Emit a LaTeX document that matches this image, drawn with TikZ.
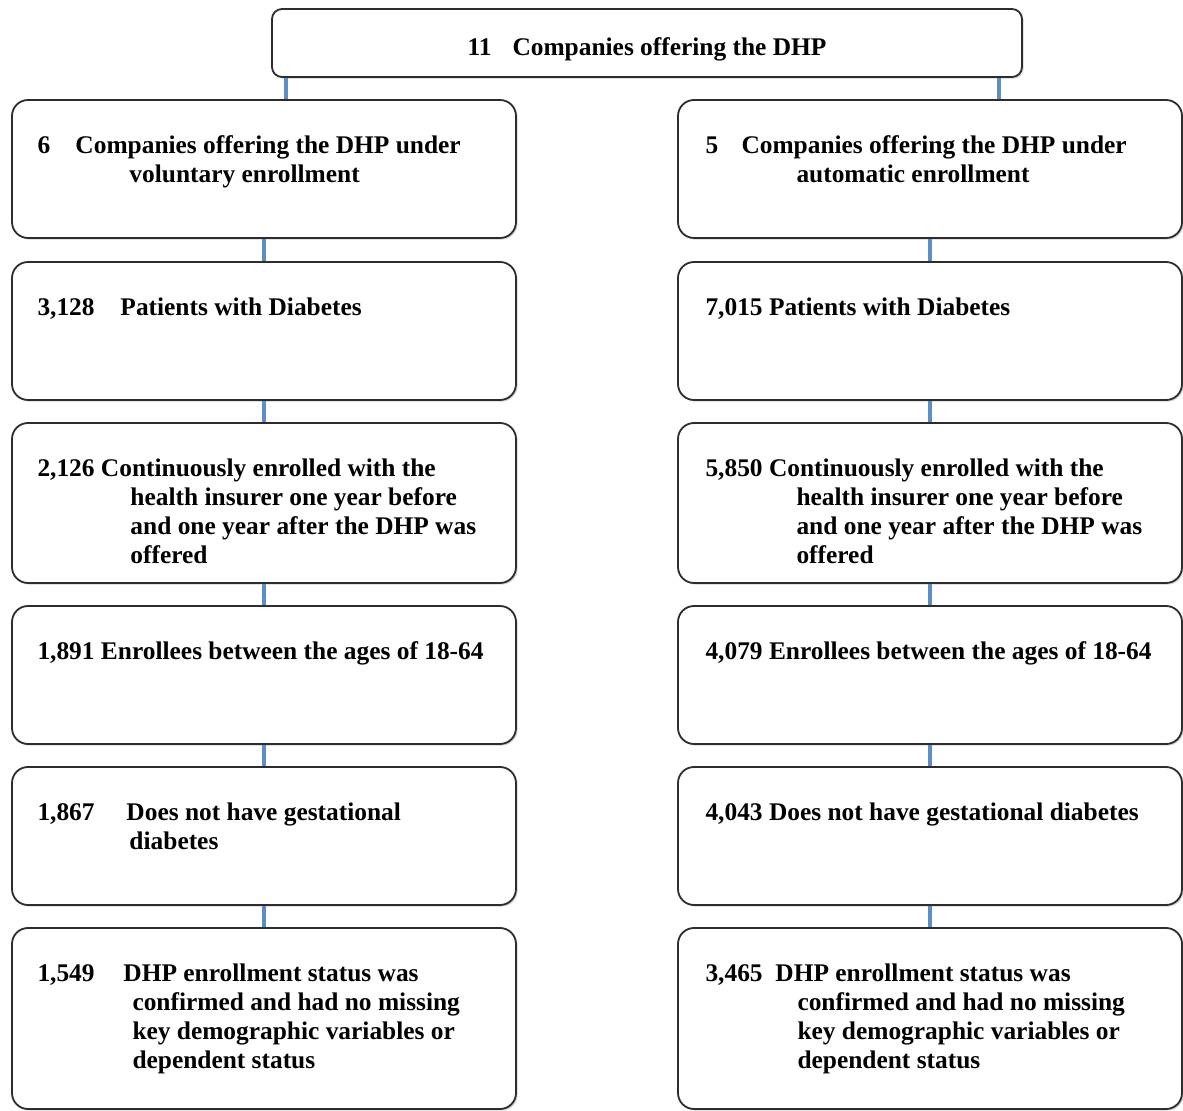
\documentclass[tikz,border=0pt]{standalone}
\usepackage{fontspec}
\setmainfont{Liberation Serif}
\usetikzlibrary{arrows,shapes,shadows,calc}
\definecolor{linkblue}{RGB}{92,142,200}
\definecolor{boxline}{RGB}{45,45,45}
\tikzstyle{stage}=[draw=boxline,line width=0.9pt,rounded corners=8pt,fill=white,minimum width=252pt,inner sep=0pt,drop shadow={shadow xshift=0.8pt,shadow yshift=-0.8pt,opacity=0.35}]
\tikzstyle{info}=[anchor=north west,inner sep=0pt,align=left,font=\fontsize{12.7}{14.5}\selectfont\bfseries]
\tikzstyle{link} = [draw=linkblue,line width=2pt,-]
\newcommand{\hangnum}[2]{\makebox[#1][l]{#2}}
\newcommand{\hangind}[1]{\hspace*{#1}}

\begin{document}
\begin{tikzpicture}[x=0.5pt,y=-0.5pt]
    \useasboundingbox (0,0) rectangle (1183,1111);
    % The top box
    \node[stage,minimum width=375pt,minimum height=34pt,rounded corners=5pt] (top) at (647,43) {};
    \node[info,anchor=base] (toptext) at ($(top.center)+(0,13)$) {\hangnum{22.5pt}{11}Companies offering the DHP};
    % Then the two columns of boxes
    \foreach \row/\ypos/\bh in {1/169/69pt, 2/331/69pt, 3/503/80pt, 4/675/69pt, 5/836/69pt, 6/1018.5/90.5pt}
    {
        \node[stage,minimum height=\bh] (L\row) at (264,\ypos) {};
        \node[stage,minimum height=\bh] (R\row) at (930,\ypos) {};
    }
    % Texts of the left column
    \node[info] (Ltext1) at ($(L1.north west)+(26,33.5)$) {\strut\hangnum{19pt}{6}Companies offering the DHP under\\\hangind{46pt}voluntary enrollment};
    \node[info] (Ltext2) at ($(L2.north west)+(26,33.5)$) {\strut\hangnum{41.5pt}{3,128}Patients with Diabetes};
    \node[info] (Ltext3) at ($(L3.north west)+(26,33.5)$) {\strut 2,126 Continuously enrolled with the\\\hangind{46.5pt}health insurer one year before\\\hangind{46.5pt}and one year after the DHP was\\\hangind{46.5pt}offered};
    \node[info] (Ltext4) at ($(L4.north west)+(26,33.5)$) {\strut 1,891 Enrollees between the ages of 18-64};
    \node[info] (Ltext5) at ($(L5.north west)+(26,33.5)$) {\strut\hangnum{44.5pt}{1,867}Does not have gestational\\\hangind{46pt}diabetes};
    \node[info] (Ltext6) at ($(L6.north west)+(26,33.5)$) {\strut\hangnum{43pt}{1,549}DHP enrollment status was\\\hangind{47.5pt}confirmed and had no missing\\\hangind{47.5pt}key demographic variables or\\\hangind{47.5pt}dependent status};
    % Texts of the right column
    \node[info] (Rtext1) at ($(R1.north west)+(28,33.5)$) {\strut\hangnum{18pt}{5}Companies offering the DHP under\\\hangind{45.5pt}automatic enrollment};
    \node[info] (Rtext2) at ($(R2.north west)+(28,33.5)$) {\strut 7,015 Patients with Diabetes};
    \node[info] (Rtext3) at ($(R3.north west)+(28,33.5)$) {\strut 5,850 Continuously enrolled with the\\\hangind{45.5pt}health insurer one year before\\\hangind{45.5pt}and one year after the DHP was\\\hangind{45.5pt}offered};
    \node[info] (Rtext4) at ($(R4.north west)+(28,33.5)$) {\strut 4,079 Enrollees between the ages of 18-64};
    \node[info] (Rtext5) at ($(R5.north west)+(28,33.5)$) {\strut 4,043 Does not have gestational diabetes};
    \node[info] (Rtext6) at ($(R6.north west)+(28,33.5)$) {\strut\hangnum{35pt}{3,465}DHP enrollment status was\\\hangind{46pt}confirmed and had no missing\\\hangind{46pt}key demographic variables or\\\hangind{46pt}dependent status};
    % Connect the boxes
    \path[link] ([xshift=7.5pt]top.south west) -- ([xshift=7.5pt]top.south west |- L1.north);
    \path[link] ([xshift=-12pt]top.south east) -- ([xshift=-12pt]top.south east |- R1.north);
    \foreach \source/\dest in {1/2, 2/3, 3/4, 4/5, 5/6}
    {
        \path[link] (L\source) -- (L\dest);
        \path[link] (R\source) -- (R\dest);
    }
\end{tikzpicture}
\end{document}
